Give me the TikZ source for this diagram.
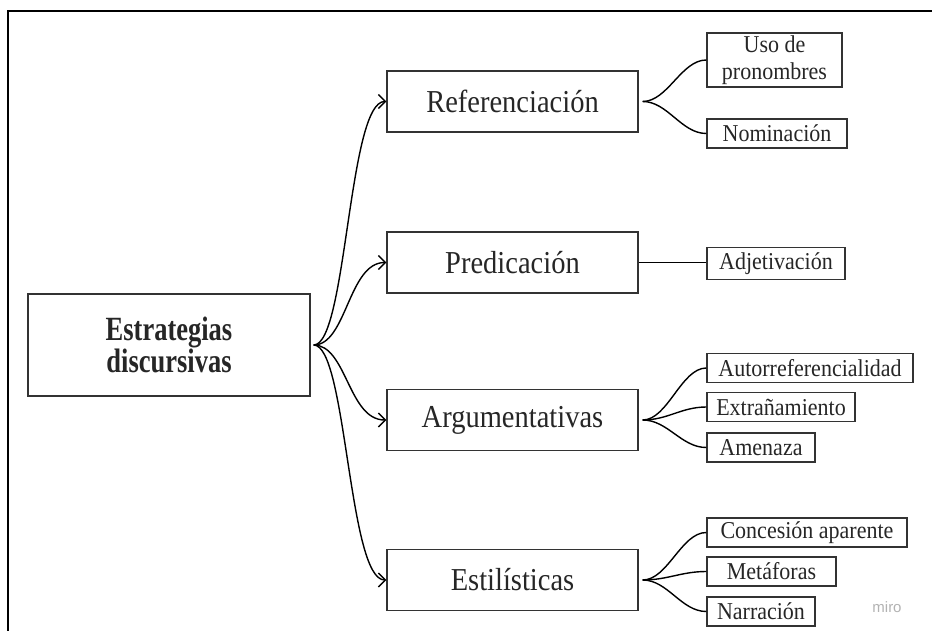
\documentclass[tikz,border=0pt]{standalone}
\usepackage{fontspec}
\usepackage{graphicx}
\setmainfont{Liberation Serif}
\newfontfamily\mirofont{Liberation Sans}
\usetikzlibrary{arrows.meta}
\definecolor{ink}{HTML}{262626}
\definecolor{frameline}{HTML}{333333}
\newcommand{\ys}[2]{\scalebox{1}[#1]{#2}}
\begin{document}
\begin{tikzpicture}[x=1pt,y=-1pt,
  box/.style={draw=frameline, line width=1.4pt, text=ink, inner sep=0pt, align=center},
  mainbox/.style={box, minimum width=282pt, minimum height=102pt, font=\fontsize{26.5}{30}\selectfont\bfseries},
  midbox/.style={box, minimum width=251pt, minimum height=61pt, font=\fontsize{28.5}{30}\selectfont},
  leafbox/.style={box, minimum height=29pt, font=\fontsize{22}{27}\selectfont},
  conn/.style={line width=1.4pt, black},
  arr/.style={conn, -{Straight Barb[length=7pt,width=14pt,line width=1.4pt]}},
]
\useasboundingbox (0,0) rectangle (932,631);
\draw[line width=2.6pt] (8,631) -- (8,11) -- (932,11);

\node[mainbox] (m) at (169,345) {\ys{1.28}{Estrategias}\\\ys{1.28}{discursivas}};

\node[midbox] (ref) at (512.5,101.5) {\ys{1.12}{Referenciación}};
\node[midbox] (pred) at (512.5,262.5) {\ys{1.12}{Predicación}};
\node[midbox] (arg) at (512.5,420) {\ys{1.12}{Argumentativas}};
\node[midbox] (est) at (512.5,580) {\ys{1.12}{Estilísticas}};

\node[leafbox, minimum width=135pt, minimum height=54pt] (uso) at (774.5,60) {\ys{1.1}{Uso de}\\\ys{1.1}{pronombres}};
\node[leafbox, minimum width=140pt] (nom) at (777,133.5) {\ys{1.1}{Nominación}};
\node[leafbox, minimum width=138pt, minimum height=32pt] (adj) at (776,263.5) {\ys{1.1}{Adjetivación}};
\node[leafbox, minimum width=206pt] (aut) at (810,368) {\ys{1.1}{Autorreferencialidad}};
\node[leafbox, minimum width=148pt] (ext) at (781,407) {\ys{1.1}{Extrañamiento}};
\node[leafbox, minimum width=108pt] (ame) at (761,447.5) {\ys{1.1}{Amenaza}};
\node[leafbox, minimum width=200pt] (con) at (807,532.5) {\ys{1.1}{Concesión aparente}};
\node[leafbox, minimum width=129pt] (met) at (771.5,571.5) {\ys{1.1}{Metáforas}};
\node[leafbox, minimum width=108pt] (nar) at (761,611.5) {\ys{1.1}{Narración}};

\node[text=black!30, font=\mirofont\fontsize{15}{15}\selectfont] (miro) at (887,607) {miro};

\coordinate (mf) at ([xshift=3pt]m.east);
\foreach \t in {ref,pred,arg,est}
  \draw[arr] (mf) .. controls +(33,0) and +(-38,0) .. (\t.west);

\coordinate (rf) at ([xshift=4pt]ref.east);
\foreach \t in {uso,nom}
  \draw[conn] (rf) .. controls +(25,0) and +(-25,0) .. (\t.west);
\draw[conn] (pred.east) -- (pred.east -| adj.west);
\coordinate (af) at ([xshift=4pt]arg.east);
\foreach \t in {aut,ext,ame}
  \draw[conn] (af) .. controls +(25,0) and +(-25,0) .. (\t.west);
\coordinate (ef) at ([xshift=4pt]est.east);
\foreach \t in {con,met,nar}
  \draw[conn] (ef) .. controls +(25,0) and +(-25,0) .. (\t.west);
\end{tikzpicture}
\end{document}
